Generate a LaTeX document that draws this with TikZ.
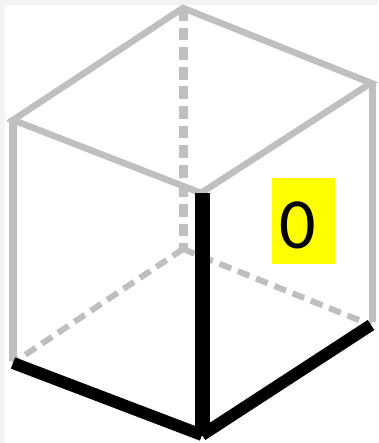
\documentclass[tikz,border=0pt]{standalone}
\usepackage{fontspec}
\setmainfont{Carlito}
\definecolor{edgegray}{HTML}{BFBFBF}
\definecolor{margingray}{HTML}{F3F3F3}
\definecolor{tagyellow}{HTML}{FFFF00}
\tikzset{
  hidden/.style={draw=edgegray,line width=6pt,dash pattern=on 12.5pt off 7.2pt},
  hiddenv/.style={draw=edgegray,line width=9pt,dash pattern=on 12.8pt off 6.8pt},
  thin edge/.style={draw=edgegray,line width=6.5pt},
  side edge/.style={draw=edgegray,line width=8pt},
  right edge/.style={draw=edgegray,line width=7pt},
  bold edge/.style={draw=black,line width=12pt},
  bold post/.style={draw=black,line width=15pt},
  tag/.style={fill=tagyellow,minimum width=63pt,minimum height=86pt,inner sep=0pt},
  digit/.style={inner sep=0pt,font=\fontsize{72}{72}\selectfont}
}
\begin{document}
\begin{tikzpicture}[x=1pt,y=-1pt]
\useasboundingbox (0,0) rectangle (378,443);
\fill[margingray] (0,0) rectangle (378,443);
\fill[white] (5,5) rectangle (378,443);
\coordinate (tb) at (183,8);
\coordinate (tr) at (371,83);
\coordinate (tl) at (13,120);
\coordinate (tf) at (201,193);
\coordinate (bb) at (183,249);
\coordinate (br) at (371,325);
\coordinate (bl) at (13,363);
\coordinate (bf) at (202,435);
\coordinate (sl) at (13,120);
\coordinate (sr) at (372,82);
\coordinate (elb) at (13,361);
\coordinate (erb) at (372,322);
\draw[hiddenv] (tb) -- (bb);
\draw[hidden] (bb) -- (bl);
\draw[hidden] (bb) -- (br);
\draw[side edge] (sl) -- (elb);
\draw[right edge] (sr) -- (erb);
\draw[thin edge] (tl) -- (tb) -- (tr) -- (tf) -- cycle;
\draw[bold edge] (bl) -- (bf);
\draw[bold edge] (bf) -- (br);
\draw[bold post] (202,193) -- (202,436);
\node[tag] (label) at (303.5,221) {};
\node[digit] (num) at (298,225) {0};
\end{tikzpicture}
\end{document}
